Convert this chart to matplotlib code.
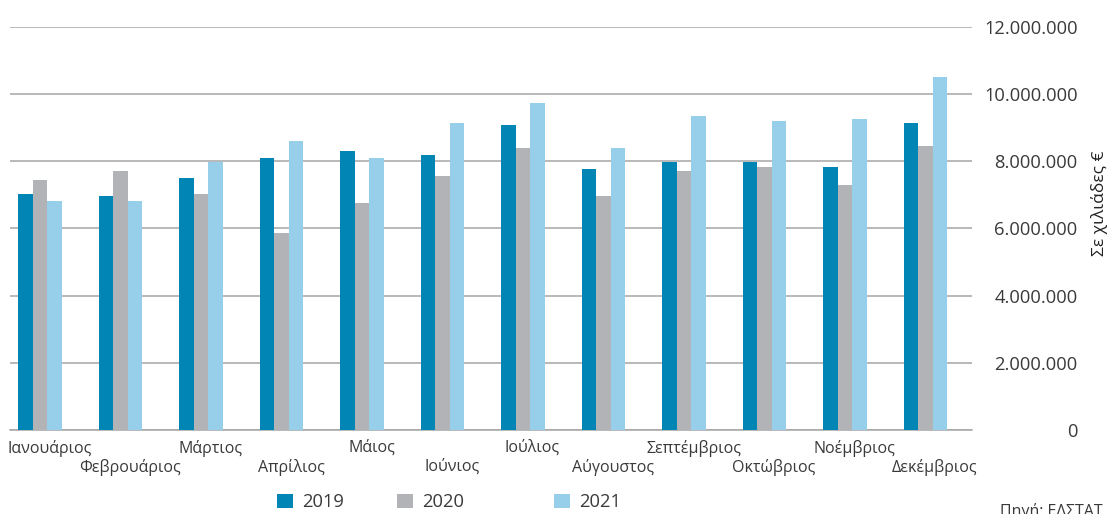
import matplotlib
matplotlib.use('Agg')
import matplotlib.pyplot as plt
from matplotlib.patches import Patch
from matplotlib.ticker import FuncFormatter
import numpy as np

plt.rcParams['font.family'] = ['Open Sans', 'DejaVu Sans']

months = ['Ιανουάριος', 'Φεβρουάριος', 'Μάρτιος', 'Απρίλιος', 'Μάιος', 'Ιούνιος',
          'Ιούλιος', 'Αύγουστος', 'Σεπτέμβριος', 'Οκτώβριος', 'Νοέμβριος', 'Δεκέμβριος']
years = ['2019', '2020', '2021']
v2019 = [7020000, 6970000, 7500000, 8100000, 8310000, 8190000,
         9080000, 7770000, 7980000, 7980000, 7830000, 9140000]
v2020 = [7440000, 7710000, 7020000, 5860000, 6760000, 7560000,
         8400000, 6970000, 7710000, 7830000, 7290000, 8460000]
v2021 = [6820000, 6820000, 7980000, 8610000, 8100000, 9140000,
         9740000, 8400000, 9350000, 9200000, 9260000, 10520000]
yticks = [0, 2000000, 4000000, 6000000, 8000000, 10000000, 12000000]

colors = ['#0085b5', '#b1b3b6', '#97cfeb']
text_color = '#3a3a3a'
grid_color = '#a6a6a6'

fig = plt.figure(figsize=(11.14, 5.14), dpi=100)
ax = fig.add_axes([0.009, 0.1634, 0.8636, 0.7841])

x = np.arange(len(months))
w = 0.18
for k, vals in enumerate([v2019, v2020, v2021]):
    ax.bar(x + (k - 1) * w, vals, width=w, color=colors[k], zorder=3)

ax.set_ylim(0, 12000000)
ax.set_xlim(-0.37, 11.58)
ax.set_yticks(yticks)
ax.yaxis.tick_right()
ax.yaxis.set_major_formatter(FuncFormatter(lambda v, p: '{:,.0f}'.format(v).replace(',', '.')))
ax.tick_params(axis='y', length=0, pad=76, labelsize=13.2, labelcolor=text_color)
for lab in ax.get_yticklabels():
    lab.set_horizontalalignment('right')
ax.set_xticks([])
ax.grid(axis='y', color=grid_color, linewidth=1.1, zorder=0)
for s in ['top', 'left', 'right']:
    ax.spines[s].set_visible(False)
ax.spines['bottom'].set_color(grid_color)
ax.spines['bottom'].set_linewidth(1.1)

# staggered month labels
for i, m in enumerate(months):
    dy = -7 if i % 2 == 0 else -21
    ax.annotate(m, xy=(i + 0.12, 0), xycoords=('data', 'axes fraction'),
                xytext=(0, dy), textcoords='offset points', ha='center', va='top',
                fontsize=11.5, color=text_color)

fig.text(1100 / 1114, 1 - 203 / 514, 'Σε χιλιάδες €', rotation=90, ha='center', va='center',
         fontsize=12.5, color='#222222')

# legend entries are unevenly spaced in the original, so one legend each
leg_x = [270, 390, 547]
for c, yr, lx in zip(colors, years, leg_x):
    fig.legend([Patch(facecolor=c, edgecolor='none')], [yr], loc='center left',
               bbox_to_anchor=(lx / 1114, 0.023), frameon=False, borderaxespad=0,
               fontsize=13.2, labelcolor=text_color, handlelength=0.85, handleheight=0.85,
               handletextpad=0.5)

fig.text(0.99, 0.022, 'Πηγή: ΕΛΣΤΑΤ', ha='right', va='top', fontsize=11.5, color=text_color)

fig.savefig('out.png', dpi=100)
